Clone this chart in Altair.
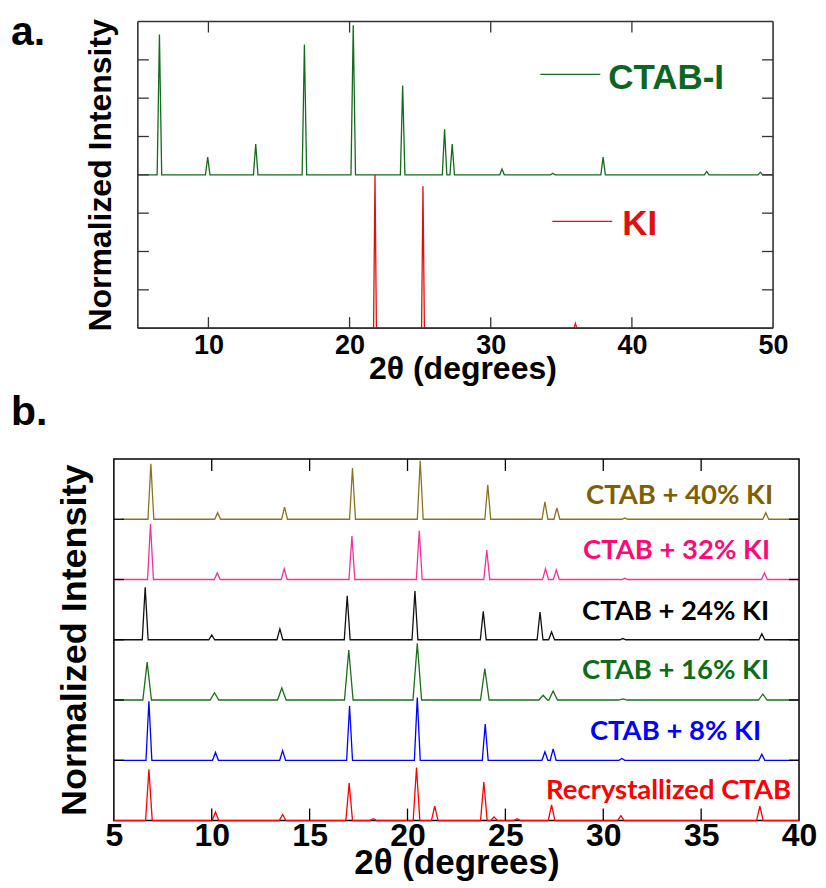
import altair as alt
import pandas as pd

# ---------------- panel a data ----------------
A_X_RANGE = [5.0, 50.0]
CTAB_I_POS = [6.53, 9.95, 13.35, 16.8, 20.26, 23.76, 26.73, 27.27, 30.8, 34.4, 37.96, 45.3, 49.1]
CTAB_I_INT = [3.66, 0.46, 0.80, 3.40, 3.90, 2.33, 1.19, 0.80, 0.15, 0.04, 0.46, 0.09, 0.07]
CTAB_I_OFFSET = 4.0
CTAB_I_HW = 0.16
KI_POS = [21.8, 25.2, 36.0]
KI_INT = [4.0, 3.7, 0.12]
KI_OFFSET = 0.0
KI_HW = 0.1
A_SERIES = ["CTAB-I", "KI"]
A_COLORS = ["#146b1e", "#e01010"]
A_X_LABELS = [10, 20, 30, 40, 50]
A_X_TICKS = [10, 20, 30, 40]
A_Y_TICKS = [1, 2, 3, 4, 5, 6, 7]

# ---------------- panel b data ----------------
B_X_RANGE = [5.0, 40.0]
B_SERIES = ["CTAB + 40% KI", "CTAB + 32% KI", "CTAB + 24% KI",
            "CTAB + 16% KI", "CTAB + 8% KI", "Recrystallized CTAB"]
B_LINE_COLORS = ["#8a7424", "#f0349a", "#111111", "#1d6e1d", "#0000ff", "#ff0000"]
B_TEXT_COLORS = ["#7f6000", "#ff0a78", "#000000", "#0d6b1a", "#0000ff", "#ff0000"]
B_OFFSETS = [5, 4, 3, 2, 1, 0]
B_STARTS = [5.4, 5.0, 5.0, 5.0, 5.0, 5.0]
B_HW = [0.15, 0.15, 0.15, 0.22, 0.15, 0.17]

KI40_POS = [6.89, 10.3, 13.72, 17.19, 20.65, 24.1, 27.02, 27.63, 31.1, 38.3]
KI40_INT = [0.92, 0.11, 0.20, 0.85, 0.97, 0.57, 0.29, 0.19, 0.02, 0.11]
KI32_POS = [6.87, 10.28, 13.7, 17.16, 20.6, 24.05, 27.05, 27.6, 31.1, 38.23]
KI32_INT = [0.92, 0.11, 0.18, 0.72, 0.81, 0.49, 0.18, 0.16, 0.02, 0.11]
KI24_POS = [6.6, 10.0, 13.48, 16.92, 20.38, 23.87, 26.77, 27.36, 31.0, 38.1]
KI24_INT = [0.87, 0.08, 0.18, 0.73, 0.81, 0.47, 0.46, 0.13, 0.02, 0.10]
KI16_POS = [6.7, 10.14, 13.58, 17.0, 20.5, 23.95, 26.93, 27.44, 31.0, 38.15]
KI16_INT = [0.63, 0.12, 0.20, 0.83, 0.94, 0.52, 0.08, 0.15, 0.02, 0.10]
KI8_POS = [6.79, 10.19, 13.62, 17.04, 20.5, 23.97, 27.02, 27.44, 30.95, 38.1]
KI8_INT = [0.98, 0.13, 0.16, 0.90, 1.04, 0.60, 0.14, 0.19, 0.03, 0.10]
REC_POS = [6.79, 10.19, 13.62, 17.02, 18.25, 20.46, 21.39, 23.9, 24.42, 25.6, 27.36, 30.9, 38.0]
REC_INT = [0.85, 0.14, 0.10, 0.62, 0.03, 0.88, 0.24, 0.64, 0.06, 0.03, 0.26, 0.08, 0.24]
B_POS = [KI40_POS, KI32_POS, KI24_POS, KI16_POS, KI8_POS, REC_POS]
B_INT = [KI40_INT, KI32_INT, KI24_INT, KI16_INT, KI8_INT, REC_INT]
B_X_LABELS = [5, 10, 15, 20, 25, 30, 35, 40]
B_X_TICKS = [10, 15, 20, 25, 30, 35]
B_Y_TICKS = [1, 2, 3, 4, 5]

X_TITLE = "2θ (degrees)"
Y_TITLE = "Normalized Intensity"
AXIS_FONT = "Liberation Sans"
LABEL_FONT = "Lato"


def trace(name, start, end, pos, inten, offset, hw):
    xs, ys = [start], [offset]
    for p, h in zip(pos, inten):
        xs += [p - hw, p, p + hw]
        ys += [offset, offset + h, offset]
    xs.append(end)
    ys.append(offset)
    return pd.DataFrame({"x": xs, "y": ys, "series": name, "order": list(range(len(xs)))})


FRAME_A = "#333333"

# ---------------- panel a ----------------
df_a = pd.concat([
    trace("CTAB-I", A_X_RANGE[0], A_X_RANGE[1], CTAB_I_POS, CTAB_I_INT, CTAB_I_OFFSET, CTAB_I_HW),
    trace("KI", A_X_RANGE[0], A_X_RANGE[1], KI_POS, KI_INT, KI_OFFSET, KI_HW),
])
SHIFT_A = 24          # panel a plot starts 24 px right of panel b plot
WA, HA = SHIFT_A + 636, 307
xa = alt.X("x:Q", scale=alt.Scale(domain=A_X_RANGE, range=[SHIFT_A, WA], nice=False, zero=False),
           axis=alt.Axis(values=A_X_LABELS, title=X_TITLE, ticks=False, tickSize=0, domain=False,
                         grid=False, labelFlush=False, labelFont=AXIS_FONT, labelFontWeight="bold",
                         labelFontSize=27, labelColor="#000", labelPadding=4, titleX=349,
                         titleFont=AXIS_FONT, titleFontWeight="bold", titleFontSize=32,
                         titleColor="#000", titlePadding=-5))
ya = alt.Y("y:Q", scale=alt.Scale(domain=[0, 8], nice=False, zero=False),
           axis=alt.Axis(labels=False, ticks=False, tickSize=0, labelPadding=0, domain=False,
                         grid=False, offset=-SHIFT_A, minExtent=0, title=Y_TITLE,
                         titleFont=AXIS_FONT, titleFontWeight="bold", titleFontSize=32,
                         titleColor="#000", titlePadding=20))
lines_a = alt.Chart(df_a).mark_line(strokeWidth=1.3).encode(
    x=xa, y=ya, order="order:Q",
    color=alt.Color("series:N", scale=alt.Scale(domain=A_SERIES, range=A_COLORS), legend=None))
axt_a = pd.DataFrame({"x": A_X_TICKS})
ayt_a = pd.DataFrame({"y": A_Y_TICKS})
edge_a = pd.DataFrame({"x": A_X_RANGE})
span_a = pd.DataFrame({"x": [A_X_RANGE[0]], "x2": [A_X_RANGE[1]]})
frame_a = [
    alt.Chart(edge_a).mark_rule(color=FRAME_A, strokeWidth=1.6).encode(x=xa, y=alt.value(0), y2=alt.value(HA)),
    alt.Chart(span_a).mark_rule(color=FRAME_A, strokeWidth=1.6).encode(x=xa, x2="x2:Q", y=alt.value(0)),
    alt.Chart(span_a).mark_rule(color=FRAME_A, strokeWidth=1.6).encode(x=xa, x2="x2:Q", y=alt.value(HA)),
]
ticks_a = [
    alt.Chart(axt_a).mark_rule(color=FRAME_A, strokeWidth=1.3).encode(x=xa, y=alt.value(0), y2=alt.value(11)),
    alt.Chart(axt_a).mark_rule(color=FRAME_A, strokeWidth=1.3).encode(x=xa, y=alt.value(HA - 11), y2=alt.value(HA)),
    alt.Chart(ayt_a).mark_rule(color=FRAME_A, strokeWidth=1.3).encode(y=ya, x=alt.value(SHIFT_A), x2=alt.value(SHIFT_A + 11)),
    alt.Chart(ayt_a).mark_rule(color=FRAME_A, strokeWidth=1.3).encode(y=ya, x=alt.value(WA - 11), x2=alt.value(WA)),
]
leg_a = [
    alt.Chart(pd.DataFrame({"s": ["CTAB-I"]})).mark_rule(color=A_COLORS[0], strokeWidth=1.3).encode(
        x=alt.value(427), x2=alt.value(487), y=alt.value(53)),
    alt.Chart(pd.DataFrame({"s": ["CTAB-I"]})).mark_text(
        align="left", baseline="middle", font=AXIS_FONT, fontWeight="bold", fontSize=35,
        color="#0b6623").encode(text="s:N", x=alt.value(495), y=alt.value(57)),
    alt.Chart(pd.DataFrame({"s": ["KI"]})).mark_rule(color=A_COLORS[1], strokeWidth=1.3).encode(
        x=alt.value(439), x2=alt.value(499), y=alt.value(200)),
    alt.Chart(pd.DataFrame({"s": ["KI"]})).mark_text(
        align="left", baseline="middle", font=AXIS_FONT, fontWeight="bold", fontSize=35,
        color="#e01010").encode(text="s:N", x=alt.value(509), y=alt.value(203)),
    alt.Chart(pd.DataFrame({"s": ["a."]})).mark_text(
        align="left", baseline="alphabetic", font=AXIS_FONT, fontWeight="bold", fontSize=41,
        color="#000").encode(text="s:N", x=alt.value(-103), y=alt.value(24)),
]
chart_a = alt.layer(lines_a, *frame_a, *ticks_a, *leg_a).properties(
    width=WA, height=HA, view=alt.ViewBackground(stroke="transparent"))

# ---------------- panel b ----------------
df_b = pd.concat([
    trace(n, s, B_X_RANGE[1], p, i, o, w)
    for n, s, p, i, o, w in zip(B_SERIES, B_STARTS, B_POS, B_INT, B_OFFSETS, B_HW)
])
WB, HB = 686, 362
xb = alt.X("x:Q", scale=alt.Scale(domain=B_X_RANGE, nice=False, zero=False),
           axis=alt.Axis(values=B_X_LABELS, title=X_TITLE, ticks=False, tickSize=0, domain=False,
                         grid=False, labelFlush=False, labelFont=AXIS_FONT, labelFontWeight="bold",
                         labelFontSize=32, labelColor="#000", labelPadding=0,
                         titleFont=AXIS_FONT, titleFontWeight="bold", titleFontSize=35,
                         titleColor="#000", titlePadding=-6))
yb = alt.Y("y:Q", scale=alt.Scale(domain=[0, 6], nice=False, zero=False),
           axis=alt.Axis(labels=False, ticks=False, tickSize=0, labelPadding=0, domain=False,
                         grid=False, minExtent=0, title=Y_TITLE,
                         titleFont=AXIS_FONT, titleFontWeight="bold", titleFontSize=36,
                         titleColor="#000", titlePadding=20))
lines_b = alt.Chart(df_b).mark_line(strokeWidth=1.3).encode(
    x=xb, y=yb, order="order:Q",
    color=alt.Color("series:N", scale=alt.Scale(domain=B_SERIES, range=B_LINE_COLORS), legend=None))
bxt = pd.DataFrame({"x": B_X_TICKS})
byt = pd.DataFrame({"y": B_Y_TICKS})
ticks_b = [
    alt.Chart(bxt).mark_rule(color="#000", strokeWidth=1.3).encode(x=xb, y=alt.value(0), y2=alt.value(12)),
    alt.Chart(bxt).mark_rule(color="#000", strokeWidth=1.3).encode(x=xb, y=alt.value(HB - 12), y2=alt.value(HB)),
    alt.Chart(byt).mark_rule(color="#000", strokeWidth=1.3).encode(y=yb, x=alt.value(0), x2=alt.value(10)),
    alt.Chart(byt).mark_rule(color="#000", strokeWidth=1.3).encode(y=yb, x=alt.value(WB - 10), x2=alt.value(WB)),
]
B_LABEL_X = [660, 657, 656, 656, 648, 678]
B_LABEL_Y = [37, 92, 153, 212, 273, 332]
labels_b = []
for name, col, lx, ly in zip(B_SERIES, B_TEXT_COLORS, B_LABEL_X, B_LABEL_Y):
    labels_b.append(
        alt.Chart(pd.DataFrame({"s": [name]})).mark_text(
            align="right", baseline="middle", font=LABEL_FONT, fontWeight="bold", fontSize=27.5,
            color=col).encode(text="s:N", x=alt.value(lx), y=alt.value(ly)))
labels_b.append(
    alt.Chart(pd.DataFrame({"s": ["b."]})).mark_text(
        align="left", baseline="alphabetic", font=AXIS_FONT, fontWeight="bold", fontSize=41,
        color="#000").encode(text="s:N", x=alt.value(-103), y=alt.value(-34)))
chart_b = alt.layer(lines_b, *ticks_b, *labels_b).properties(
    width=WB, height=HB, view=alt.ViewBackground(stroke="#000", strokeWidth=1.5))

chart = alt.vconcat(chart_a, chart_b, spacing=6).resolve_scale(
    color="independent", x="independent", y="independent"
).properties(
    padding={"left": 2, "top": 3, "right": 0, "bottom": 0}
)

chart.save("out.html", embed_options={"renderer": "svg", "actions": False})
